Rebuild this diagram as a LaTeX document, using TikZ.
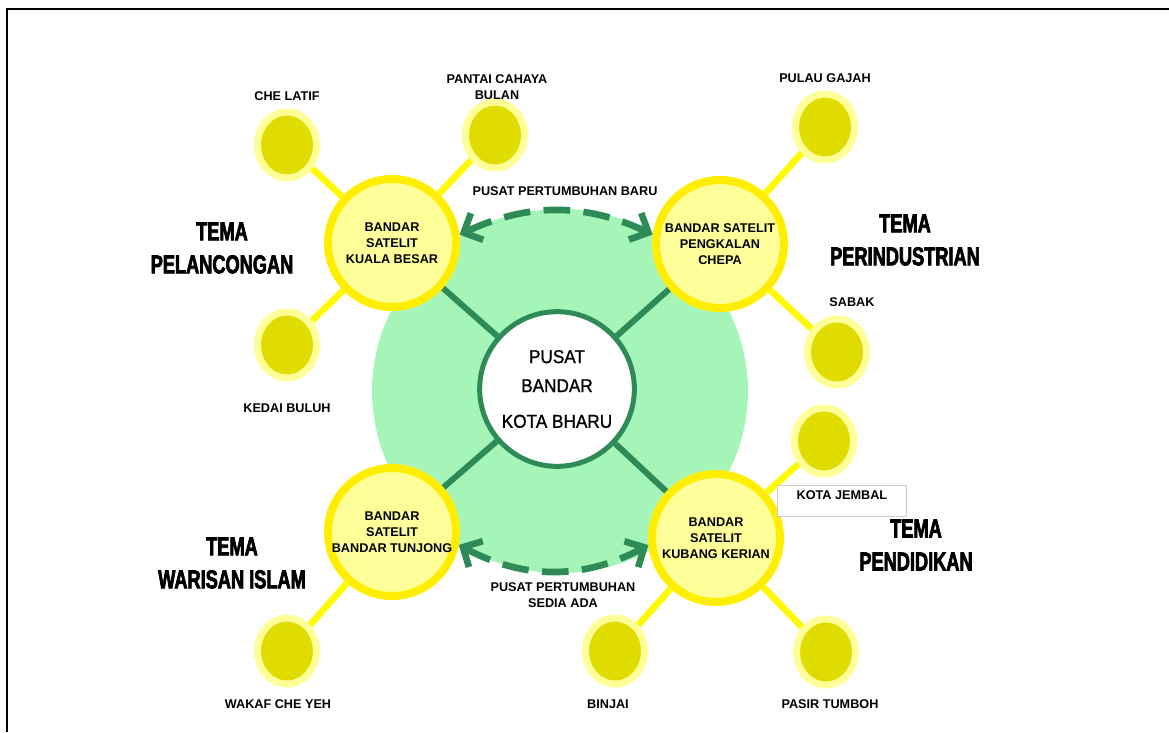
\documentclass[tikz,border=0pt]{standalone}
\usepackage{fontspec}
\setmainfont{Liberation Sans}
\newfontfamily\temafont[FakeStretch=0.70,FakeBold=2.6]{Liberation Sans}
\newfontfamily\hubfont[FakeStretch=0.92,FakeBold=1]{Liberation Sans}
\usetikzlibrary{arrows.meta,backgrounds,shapes.geometric}
\definecolor{seagrn}{RGB}{46,139,87}
\definecolor{mint}{RGB}{166,245,184}
\definecolor{paleyel}{RGB}{255,255,153}
\definecolor{ringyel}{RGB}{255,238,0}
\definecolor{dotyel}{RGB}{224,220,0}
\definecolor{lineyel}{RGB}{255,250,0}
\begin{document}
\begin{tikzpicture}[x=0.75pt,y=0.75pt,
    hub/.style={circle,draw=seagrn,line width=3.75pt,fill=white,minimum size=116pt,inner sep=0,align=center,font=\hubfont\fontsize{14}{21.75}\selectfont},
    sat/.style={circle,draw=ringyel,line width=6pt,fill=paleyel,minimum size=96pt,inner sep=0,align=center,font=\bfseries\fontsize{9.5}{12}\selectfont},
    dot/.style={ellipse,draw=paleyel,line width=5.25pt,fill=dotyel,minimum width=44.25pt,minimum height=49.5pt,inner sep=0},
    lbl/.style={align=center,font=\bfseries\fontsize{9.5}{12}\selectfont,inner sep=1pt},
    tema/.style={align=center,font=\temafont\bfseries\fontsize{19.5}{24.75}\selectfont},
    spoke/.style={draw=seagrn,line width=4.5pt},
    yline/.style={draw=lineyel,line width=5pt},
    growth/.style={draw=seagrn,line width=5pt,dash pattern=on 20pt off 10pt,>={Straight Barb[length=11pt,width=22pt]},<->}]
  \useasboundingbox (0,0) rectangle (1169,-732);
  \draw[line width=1.5pt] (1169,-9) -- (7,-9) -- (7,-732);

  % pusat bandar and the four satellite towns
  \node[hub] (pb) at (557,-389) {PUSAT\\BANDAR\\[5pt]KOTA BHARU};
  \node[sat] (kb) at (392,-243) {BANDAR\\SATELIT\\KUALA BESAR};
  \node[sat] (pk) at (720,-244) {BANDAR SATELIT\\PENGKALAN\\CHEPA};
  \node[sat] (bt) at (392,-532) {BANDAR\\SATELIT\\BANDAR TUNJONG};
  \node[sat] (kk) at (716,-538) {BANDAR\\SATELIT\\KUBANG KERIAN};

  % small places
  \foreach \n/\x/\y/\lx/\ly/\t in {
      cl/287/145/287/96/{CHE LATIF},
      pcb/495/135/497/87/{PANTAI CAHAYA\\BULAN},
      kdb/287/345/287/408/{KEDAI BULUH},
      pg/825/127/825/78/{PULAU GAJAH},
      sb/837/352/852/302/{SABAK},
      wcy/287/651/278/704/{WAKAF CHE YEH},
      bj/615/651/608/704/{BINJAI},
      pt/826/652/830/704/{PASIR TUMBOH}}
  {
    \node[dot] (\n) at (\x,-\y) {};
    \node[lbl] (\n-t) at (\lx,-\ly) {\t};
  }
  \node[dot] (kj) at (824,-441) {};
  \node[lbl,draw=gray!40,fill=white,anchor=north west,minimum width=97pt,text height=8pt,text depth=9pt,inner ysep=3pt] (kj-t) at (777,-485) {KOTA JEMBAL};

  \begin{scope}[on background layer]
    \fill[mint] (560,-391) ellipse [x radius=188, y radius=182];
    \foreach \s in {kb,pk,bt,kk} \draw[spoke] (pb) -- (\s);
    \foreach \a/\b in {cl/kb,pcb/kb,kdb/kb,pg/pk,sb/pk,wcy/bt,kj/kk,bj/kk,pt/kk}
      \draw[yline] (\a) -- (\b);
  \end{scope}

  % growth links
  \draw[growth] (kb.7) to[out=25,in=155] (pk.172);
  \draw[growth] (bt.-11) to[out=-28,in=-152] (kk.-174);
  \node[lbl] (baru) at (565,-191) {PUSAT PERTUMBUHAN BARU};
  \node[lbl] (ada) at (563,-595) {PUSAT PERTUMBUHAN\\SEDIA ADA};

  % themes
  \node[tema] (t1) at (222,-248) {TEMA\\PELANCONGAN};
  \node[tema] (t2) at (905,-240) {TEMA\\PERINDUSTRIAN};
  \node[tema] (t3) at (232,-563) {TEMA\\WARISAN ISLAM};
  \node[tema] (t4) at (916,-545) {TEMA\\PENDIDIKAN};
\end{tikzpicture}
\end{document}
